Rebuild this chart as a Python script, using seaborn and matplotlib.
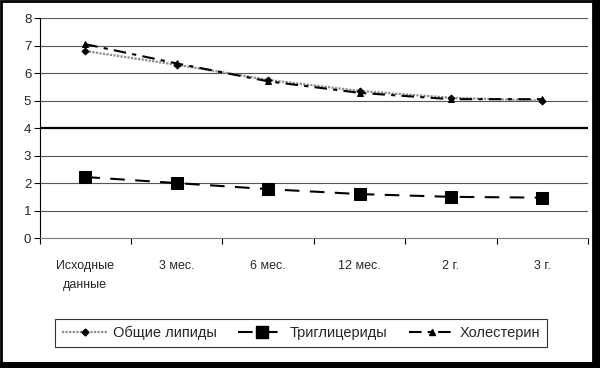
import pandas as pd
import matplotlib.pyplot as plt
import seaborn as sns
from matplotlib.lines import Line2D
from matplotlib.ticker import FixedLocator, NullFormatter, FixedFormatter

periods = ["Исходные\nданные", "3 мес.", "6 мес.", "12 мес.", "2 г.", "3 г."]
total_lipids = [6.8, 6.3, 5.75, 5.35, 5.1, 5.0]
triglycerides = [2.22, 2.0, 1.78, 1.6, 1.5, 1.47]
cholesterol = [7.05, 6.35, 5.7, 5.28, 5.05, 5.05]

sns.set_style("white")
plt.rcParams["font.family"] = ["Liberation Sans", "DejaVu Sans"]

fig = plt.figure(figsize=(6, 3.68), dpi=100)
ax = fig.add_axes([0.066, 0.353, 0.914, 0.598])

lip_style = dict(color="#8c8c8c", lw=1.6, linestyle=(0, (1, 0.6)), marker="D", markersize=3.5,
                 markerfacecolor="black", markeredgecolor="black")
tri_style = dict(color="black", lw=1.5, linestyle=(0, (7, 5)), marker="s", markersize=8,
                 markerfacecolor="black", markeredgecolor="black")
chol_style = dict(color="black", lw=1.5, linestyle=(0, (6, 3, 2, 3)), marker="^", markersize=5,
                  markerfacecolor="black", markeredgecolor="black")

pos = list(range(len(periods)))
sns.lineplot(x=pos, y=total_lipids, ax=ax, **lip_style)
sns.lineplot(x=pos, y=triglycerides, ax=ax, **tri_style)
sns.lineplot(x=pos, y=cholesterol, ax=ax, **chol_style)

ax.set_xlim(-0.5, 5.5)
ax.set_ylim(0, 8)
ax.set_yticks(range(9))
ax.xaxis.set_major_locator(FixedLocator([i - 0.5 for i in range(7)]))
ax.xaxis.set_major_formatter(NullFormatter())
ax.xaxis.set_minor_locator(FixedLocator(pos))
ax.xaxis.set_minor_formatter(FixedFormatter(periods))
ax.tick_params(axis="x", which="major", length=4, width=0.8, color="black", direction="out", bottom=True)
ax.tick_params(axis="x", which="minor", length=0, pad=16, labelsize=9)
ax.tick_params(axis="y", length=4, width=0.8, color="black", direction="out", left=True, labelsize=9.5, pad=2)
for t in ax.xaxis.get_minorticklabels():
    t.set_linespacing(1.7)

for v in range(1, 9):
    ax.axhline(v, color="black" if v == 4 else "#555555", lw=1.6 if v == 4 else 0.8, zorder=0)

for s in ["top", "right"]:
    ax.spines[s].set_visible(False)
ax.spines["left"].set_color("black")
ax.spines["left"].set_linewidth(0.8)
ax.spines["bottom"].set_color("#777777")
ax.spines["bottom"].set_linewidth(0.8)
ax.set_xlabel("")
ax.set_ylabel("")

handles = [Line2D([], [], **lip_style), Line2D([], [], **tri_style), Line2D([], [], **chol_style)]
labels = ["Общие липиды", "Триглицериды", "Холестерин"]
leg = fig.legend(handles, labels, loc="center", bbox_to_anchor=(0.502, 0.095), ncol=3,
                 frameon=True, fancybox=False, fontsize=10.5, handlelength=3.2,
                 handletextpad=0.3, columnspacing=1.5, borderpad=0.45)
leg.get_frame().set_edgecolor("black")
leg.get_frame().set_linewidth(0.8)

# outer frame with shadow on right and bottom
fig.add_artist(plt.Rectangle((0.002, 0.012), 0.986, 0.985, transform=fig.transFigure,
                             fill=False, edgecolor="black", lw=2))
fig.add_artist(plt.Rectangle((0.988, 0.0), 0.012, 1.0, transform=fig.transFigure,
                             facecolor="black", edgecolor="none"))
fig.add_artist(plt.Rectangle((0.0, 0.0), 1.0, 0.016, transform=fig.transFigure,
                             facecolor="black", edgecolor="none"))

fig.savefig("out.png", dpi=100)
